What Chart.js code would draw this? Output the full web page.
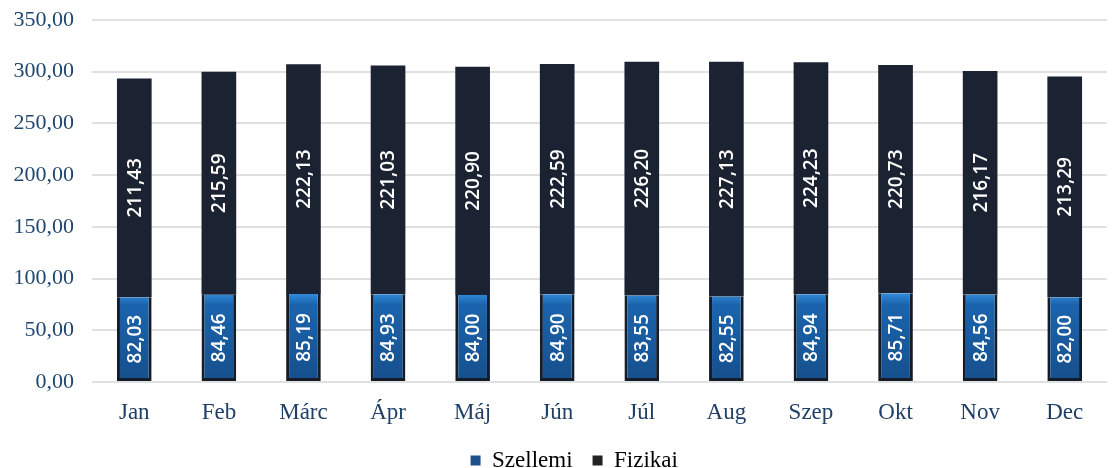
<!DOCTYPE html>
<html>
<head>
<meta charset="utf-8">
<script src="https://cdn.jsdelivr.net/npm/chart.js@4"></script>
<style>
  body { margin: 0; background: #fff; }
</style>
</head>
<body>
<canvas id="graph" width="1118" height="468"></canvas>
<script>
const months = ["Jan", "Feb", "Márc", "Ápr", "Máj", "Jún", "Júl", "Aug", "Szep", "Okt", "Nov", "Dec"];
const szellemi = [82.03, 84.46, 85.19, 84.93, 84.00, 84.90, 83.55, 82.55, 84.94, 85.71, 84.56, 82.00];
const fizikai = [211.43, 215.59, 222.13, 221.03, 220.90, 222.59, 226.20, 227.13, 224.23, 220.73, 216.17, 213.29];

function fmt(v) {
  return v.toFixed(2).replace(".", ",");
}

// white rotated labels inside each bar segment
const barLabels = {
  id: "barLabels",
  afterDatasetsDraw(chart) {
    const ctx = chart.ctx;
    ctx.save();
    ctx.fillStyle = "#ffffff";
    ctx.font = "600 19px 'Open Sans'";
    ctx.textAlign = "center";
    ctx.textBaseline = "middle";
    chart.data.datasets.forEach((ds, i) => {
      const meta = chart.getDatasetMeta(i);
      meta.data.forEach((bar, j) => {
        const y = (bar.y + bar.base) / 2;
        ctx.save();
        ctx.translate(bar.x, y);
        ctx.rotate(-Math.PI / 2);
        ctx.fillText(fmt(ds.data[j]), 0, 1);
        ctx.restore();
      });
    });
    ctx.restore();
  }
};

const blueFill = (context) => {
  const chart = context.chart;
  const area = chart.chartArea;
  if (!area) return "#1d5fa0";
  const g = chart.ctx.createLinearGradient(0, area.bottom - 88, 0, area.bottom);
  g.addColorStop(0, "#2f8ad8");
  g.addColorStop(0.12, "#1b64ad");
  g.addColorStop(1, "#164f8c");
  return g;
};

new Chart(document.getElementById("graph"), {
  type: "bar",
  data: {
    labels: months,
    datasets: [
      {
        label: "Szellemi",
        data: szellemi,
        backgroundColor: blueFill,
        borderColor: "#141c2a",
        borderWidth: { left: 3, right: 3, top: 0, bottom: 3 },
        borderSkipped: false,
        barPercentage: 0.41,
        categoryPercentage: 1
      },
      {
        label: "Fizikai",
        data: fizikai,
        backgroundColor: "#1b2232",
        borderWidth: 0,
        barPercentage: 0.41,
        categoryPercentage: 1
      }
    ]
  },
  options: {
    responsive: false,
    animation: false,
    layout: { padding: { top: 20, right: 11, left: 0, bottom: -14 } },
    scales: {
      x: {
        stacked: true,
        grid: { display: false, drawTicks: false },
        border: { display: false },
        afterFit: (s) => { s.height = 47; },
        ticks: {
          color: "#1f3f66",
          font: { family: "'Liberation Serif'", size: 23 },
          padding: 17
        }
      },
      y: {
        stacked: true,
        min: 0,
        max: 350,
        afterFit: (s) => {
          s.width = 92;
          s.paddingTop = 0;
          s.paddingBottom = 0;
        },
        grid: { color: "#e0e0e0", lineWidth: 2, drawTicks: false },
        border: { display: false },
        ticks: {
          stepSize: 50,
          color: "#1f4670",
          font: { family: "'Liberation Serif'", size: 22 },
          padding: 18,
          callback: (v) => fmt(v)
        }
      }
    },
    plugins: {
      legend: {
        position: "bottom",
        labels: {
          color: "#1e3050",
          font: { family: "'Liberation Serif'", size: 23 },
          boxWidth: 10,
          boxHeight: 10,
          padding: 20,
          // empty first item nudges the legend a bit to the right, as in the original
          generateLabels: (chart) => [
            { text: "", fillStyle: "rgba(0,0,0,0)", strokeStyle: "rgba(0,0,0,0)", lineWidth: 0 },
            { text: "Szellemi", fillStyle: "#1f4f8a", strokeStyle: "#1f4f8a", lineWidth: 0, datasetIndex: 0 },
            { text: "Fizikai", fillStyle: "#222", strokeStyle: "#222", lineWidth: 0, datasetIndex: 1 }
          ]
        }
      },
      tooltip: { enabled: false }
    }
  },
  plugins: [barLabels]
});
</script>
</body>
</html>
